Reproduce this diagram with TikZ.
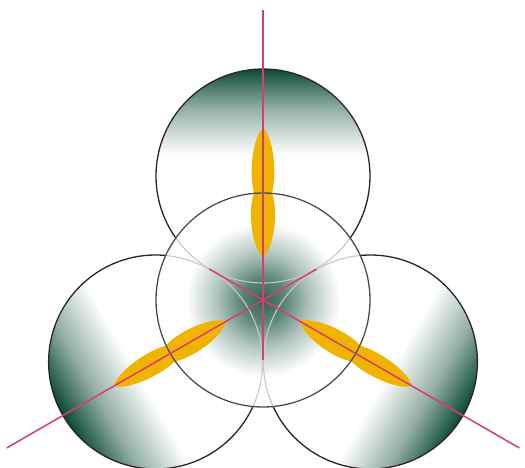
\documentclass[tikz,border=0pt]{standalone}
\usepackage{tikz}

\definecolor{deepgreen}{RGB}{12,74,54}
\definecolor{petalgold}{RGB}{240,180,0}
\definecolor{axispink}{RGB}{214,62,112}

\pgfdeclareverticalshading{rimfade}{100bp}{color(0bp)=(white); color(55bp)=(white);
  color(66bp)=(deepgreen!45!white); color(75bp)=(deepgreen); color(100bp)=(deepgreen)}
\pgfdeclareradialshading{corefade}{\pgfpoint{0bp}{0bp}}{color(0bp)=(deepgreen!85!white);
  color(5bp)=(deepgreen!68!white); color(11bp)=(deepgreen!32!white); color(18bp)=(white); color(50bp)=(white)}

\tikzset{
  rim/.style={draw=black!85, line width=1.3pt},
  ghost/.style={draw=black!22, line width=1.1pt},
  axis/.style={draw=axispink, line width=1.5pt},
  petal/.style={fill=petalgold},
}

\newcommand\drawpetal[1]{%
  \fill[petal, rotate=#1] (42,0) .. controls (58,14) and (95,14) .. (107,9)
    .. controls (125,14) and (162,11) .. (172,0)
    .. controls (162,-11) and (125,-14) .. (107,-9)
    .. controls (95,-14) and (58,-14) .. (42,0) -- cycle;}

\begin{document}
\begin{tikzpicture}[x=1pt,y=1pt]
  \useasboundingbox (-263,-168) rectangle (262,300);

  % Centres (manual placement)
  \coordinate (hub)   at (0,0);
  \coordinate (top)   at (0,124);
  \coordinate (left)  at (210:124);
  \coordinate (right) at (330:124);

  % Axis ends
  \coordinate (tipN)  at (0,290);
  \coordinate (tipSW) at (210:296);
  \coordinate (tipSE) at (330:296);
  \coordinate (stubS) at (0,-60);
  \coordinate (stubW) at (150:62);
  \coordinate (stubE) at (30:62);

  % shaded discs
  \shade[shading=rimfade, shading angle=0]    (top)   circle (107);
  \shade[shading=rimfade, shading angle=120]  (left)  circle (107);
  \shade[shading=rimfade, shading angle=-120] (right) circle (107);
  \shade[shading=corefade] (hub) circle (107);

  % petals
  \foreach \ang in {90,210,330} {\drawpetal{\ang}}

  % outlines: inner arcs faint, outer arcs dark
  \foreach \ang/\nm in {90/top,210/left,330/right} {
    \draw[ghost] (\nm) ++(\ang+125.4:107) arc[start angle=\ang+125.4, end angle=\ang+234.6, radius=107];
    \draw[rim] (\nm) ++(\ang-125.4:107) arc[start angle=\ang-125.4, end angle=\ang+125.4, radius=107];
  }
  \draw[rim, draw=black!70] (hub) circle (107);

  % axes
  \draw[axis] (stubS) -- (tipN);
  \draw[axis] (hub) -- (tipSW);
  \draw[axis] (hub) -- (tipSE);
  \draw[axis] (hub) -- (stubW);
  \draw[axis] (hub) -- (stubE);
  \fill[axispink] (hub) circle (2);
\end{tikzpicture}
\end{document}
